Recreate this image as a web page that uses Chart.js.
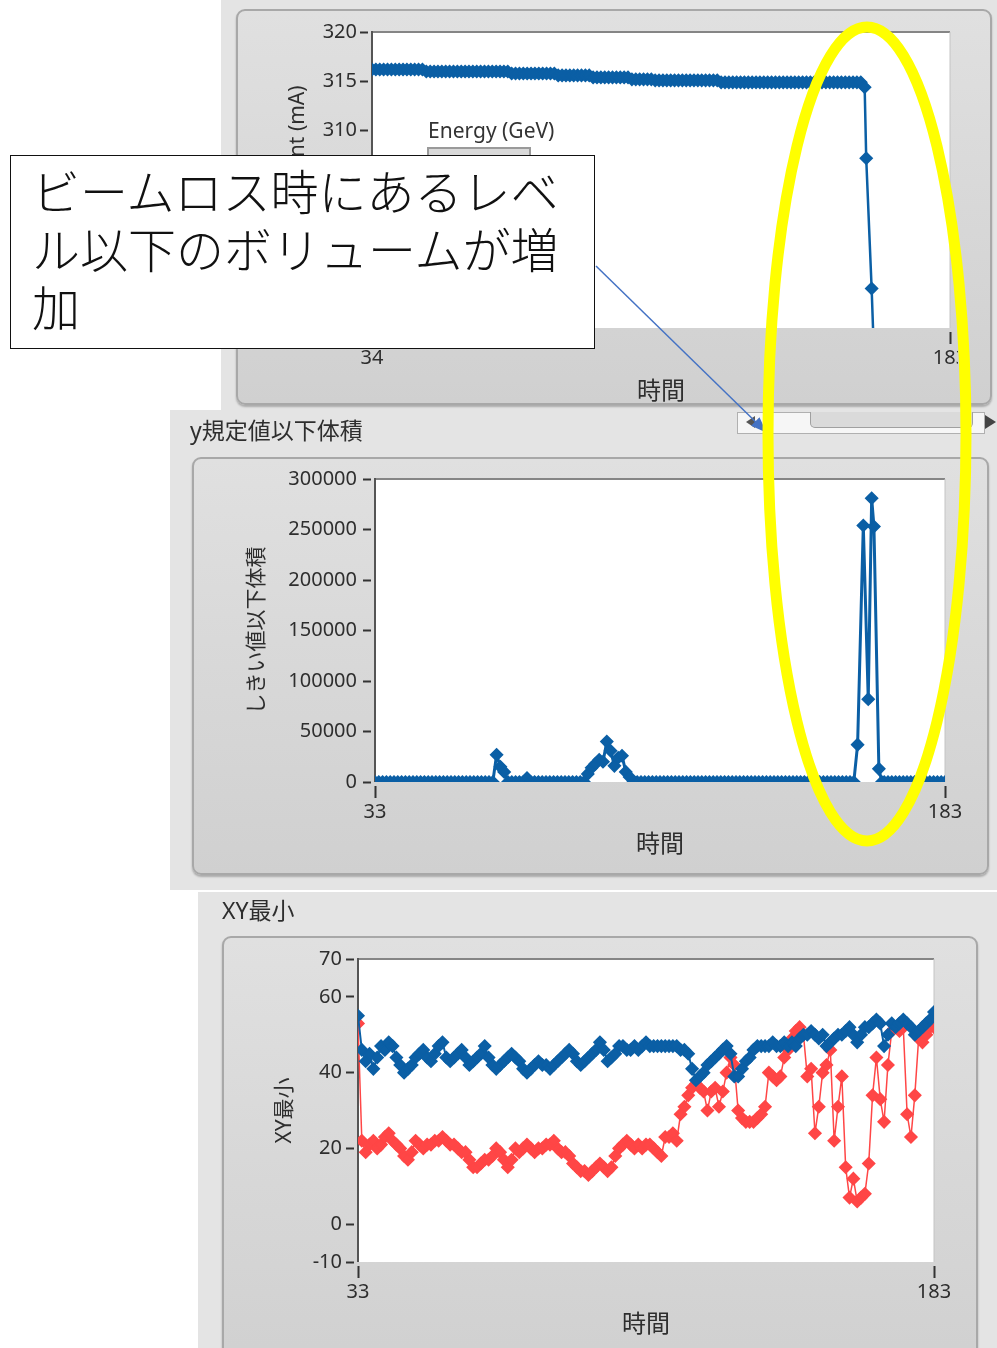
<!DOCTYPE html>
<html>
<head>
<meta charset="utf-8">
<script src="https://cdn.jsdelivr.net/npm/chart.js@4.4.0/dist/chart.umd.min.js"></script>
<style>
body{margin:0;width:997px;height:1348px;background:#fff;position:relative;overflow:hidden;font-family:'Noto Sans','Noto Sans CJK JP',sans-serif;}
.abs{position:absolute;}
.outer{position:absolute;background:#e4e4e4;}
.inner{position:absolute;box-sizing:border-box;border:2px solid #a8a8a8;border-radius:9px;background:linear-gradient(#e0e0e0,#d0d0d0);box-shadow:0 2px 2px rgba(0,0,0,.25);}
canvas{position:absolute;}
#note{left:10px;top:155px;width:585px;height:194px;box-sizing:border-box;border:1.5px solid #111;background:#fff;
  padding:4px 0 0 21px;font-family:'Noto Sans CJK JP',sans-serif;font-weight:300;font-size:48px;line-height:58px;color:#111;white-space:nowrap;}
</style>
</head>
<body>
<div class="outer" style="left:221px;top:0;width:776px;height:410px"></div>
<div class="inner" style="left:236px;top:9px;width:756px;height:396px"></div>
<div class="outer" style="left:170px;top:410px;width:827px;height:480px"></div>
<div class="inner" style="left:192px;top:457px;width:797px;height:418px"></div>
<div class="outer" style="left:198px;top:892px;width:799px;height:456px"></div>
<div class="inner" style="left:222px;top:936px;width:756px;height:440px"></div>

<!-- scrollbar strip under the top graph -->
<div class="abs" style="left:737px;top:412px;width:248px;height:22px;background:#f6f6f6;border:1px solid #b0b0b0;box-sizing:border-box"></div>
<div class="abs" style="left:810px;top:412px;width:163px;height:16px;background:#dadada;border:1px solid #a0a0a0;border-top:none;border-radius:0 0 5px 5px;box-sizing:border-box"></div>
<div class="abs" style="left:746px;top:416px;width:0;height:0;border-top:6px solid transparent;border-bottom:6px solid transparent;border-right:9px solid #555"></div>
<div class="abs" style="left:985px;top:415px;width:0;height:0;border-top:7px solid transparent;border-bottom:7px solid transparent;border-left:11px solid #444"></div>

<canvas id="c1" width="737" height="410" style="left:221px;top:0"></canvas>
<canvas id="c2" width="827" height="480" style="left:170px;top:410px"></canvas>
<canvas id="c3" width="799" height="456" style="left:198px;top:892px"></canvas>

<div class="abs" style="left:428px;top:116px;font-size:21px;line-height:28px;color:#333">Energy (GeV)</div>
<div class="abs" style="left:427px;top:147px;width:104px;height:16px;border:2px solid #9a9a9a;background:#d9d9d9;box-sizing:border-box"></div>

<div id="note" class="abs">ビームロス時にあるレベ<br>ル以下のボリュームが増<br>加</div>

<svg class="abs" style="left:0;top:0" width="997" height="1348">
  <defs>
    <marker id="ah" markerUnits="userSpaceOnUse" markerWidth="16" markerHeight="12" refX="15" refY="6" orient="auto">
      <path d="M0,0 L16,6 L0,12 z" fill="#4472c4"/>
    </marker>
  </defs>
  <line x1="596" y1="266" x2="766" y2="432" stroke="#4472c4" stroke-width="1.5" marker-end="url(#ah)"/>
  <ellipse cx="867" cy="434" rx="99" ry="407" fill="none" stroke="#ffff00" stroke-width="11"/>
</svg>

<script>
// ---- top graph: beam current ----
const curTimes = [
  34,35,36,37,38,39,40,41,42,43,44,45,46,47,
  48,49,50,51,52,53,54,55,56,57,58,59,60,61,62,63,64,65,66,67,68,69,
  70,71,72,73,74,75,76,77,78,79,80,81,
  82,83,84,85,86,87,88,89,90,
  91,92,93,94,95,96,97,98,99,100,
  101,102,103,104,105,106,
  107,108,109,110,111,112,113,114,115,116,117,118,119,120,121,122,123,
  124,125,126,127,128,129,130,131,132,133,134,135,136,137,138,139,140,141,142,143,144,145,146,147,148,149,150,151,152,153,154,155,156,157,158,159,160,
  161,161.4,162.8,163.6
];
const curValues = [
  316.2,316.2,316.2,316.2,316.2,316.2,316.2,316.2,316.2,316.2,316.2,316.2,316.2,316.2,
  316.0,316.0,316.0,316.0,316.0,316.0,316.0,316.0,316.0,316.0,316.0,316.0,316.0,316.0,316.0,316.0,316.0,316.0,316.0,316.0,316.0,316.0,
  315.8,315.8,315.8,315.8,315.8,315.8,315.8,315.8,315.8,315.8,315.8,315.8,
  315.6,315.6,315.6,315.6,315.6,315.6,315.6,315.6,315.6,
  315.4,315.4,315.4,315.4,315.4,315.4,315.4,315.4,315.4,315.4,
  315.2,315.2,315.2,315.2,315.2,315.2,
  315.1,315.1,315.1,315.1,315.1,315.1,315.1,315.1,315.1,315.1,315.1,315.1,315.1,315.1,315.1,315.1,315.1,
  314.9,314.9,314.9,314.9,314.9,314.9,314.9,314.9,314.9,314.9,314.9,314.9,314.9,314.9,314.9,314.9,314.9,314.9,314.9,314.9,314.9,314.9,314.9,314.9,314.9,314.9,314.9,314.9,314.9,314.9,314.9,314.9,314.9,314.9,314.9,314.9,314.9,
  314.4,307.2,294.0,285.0
];
const curXTicks = [34, 183];

// ---- middle graph: volume below threshold ----
const volTimes = [
  33,34,35,36,37,38,39,40,41,42,43,44,45,46,47,48,49,50,51,52,53,54,55,56,57,58,59,60,61,62,
  63,64,65,66,67,68,69,70,71,72,73,74,75,76,77,78,79,80,81,82,83,84,85,86,87,88,89,90,91,92,
  93,94,95,96,97,98,99,100,101,102,103,104,105,106,107,108,109,110,111,112,113,114,115,116,117,118,119,120,121,122,
  123,124,125,126,127,128,129,130,131,132,133,134,135,136,137,138,139,140,141,142,143,144,145,146,147,148,149,150,151,152,
  153,154,155,156,157,158,159,
  160,161.5,162.8,163.7,164.3,165.6,166.4,
  167,168,169,170,171,172,173,174,175,176,177,178,179,180,181,182,183
];
const volValues = [
  0,0,0,0,0,0,0,0,0,0, 0,0,0,0,0,0,0,0,0,0, 0,0,0,0,0,0,0,0,0,0,
  0,0,27000,15000,10000,0,0,0,0,0, 4000,0,0,0,0,0,0,0,0,0, 0,0,0,0,0,0,8000,14000,18000,22000,
  20000,40000,31000,16000,24000,26000,10000,5000,0,0, 0,0,0,0,0,0,0,0,0,0, 0,0,0,0,0,0,0,0,0,0,
  0,0,0,0,0,0,0,0,0,0, 0,0,0,0,0,0,0,0,0,0, 0,0,0,0,0,0,0,0,0,0,
  0,0,0,0,0,0,0,
  37000,254000,82000,281000,253000,13000,0,
  0,0,0,0,0,0,0,0,0,0,0,0,0,0,0,0,0
];
const volXTicks = [33, 183];

// ---- bottom graph: XY minimum ----
const xyTimes = [
  33,34,35,36,37,38,39,40,41,42,43,44,45,46,47,48,49,50,51,52,53,54,55,56,57,58,59,60,61,62,
  63,64,65,66,67,68,69,70,71,72,73,74,75,76,77,78,79,80,81,82,83,84,85,86,87,88,89,90,91,92,
  93,94,95,96,97,98,99,100,101,102,103,104,105,106,107,108,109,110,111,112,113,114,115,116,117,118,119,120,121,122,
  123,124,125,126,127,128,129,130,131,132,133,134,135,136,137,138,139,140,141,142,143,144,145,146,147,148,149,150,151,152,
  153,154,155,156,157,158,159,160,161,162,163,164,165,166,167,168,169,170,171,172,173,174,175,176,177,178,179,180,181,182,183
];
const xyBlue = [
  55,46,43,45,41,44,47,46,48,47,
  44,42,40,41,42,44,45,46,44,43,
  45,47,48,44,43,44,45,46,44,42,
  43,44,45,47,44,42,41,42,43,44,
  45,44,43,41,40,41,42,43,42,42,
  41,42,43,44,45,46,45,43,42,43,
  44,45,46,48,46,43,44,45,47,47,
  46,46,47,46,47,48,47,47,47,47,
  47,47,47,47,46,46,45,41,38,39,
  40,42,43,44,45,46,47,45,39,39,
  41,43,44,46,47,47,47,47,48,47,
  47,48,47,48,47,49,50,50,51,50,
  49,50,47,48,49,50,50,51,52,50,
  48,50,52,52,53,54,53,47,50,53,
  52,53,54,53,52,50,51,52,53,54,
  56
];
const xyRed = [
  53,22,19,21,22,20,21,23,24,22,
  21,20,18,17,19,22,21,20,21,21,
  22,22,23,22,21,21,20,19,19,17,
  15,15,16,17,17,18,20,19,17,15,
  17,20,19,20,21,20,19,20,20,21,
  21,22,20,19,19,18,16,15,14,14,
  13,14,15,16,15,14,15,18,20,21,
  22,21,20,21,20,21,21,20,19,18,
  23,23,24,22,29,31,34,36,37,36,
  35,30,35,36,31,35,40,44,42,30,
  28,27,27,27,28,29,31,40,39,38,
  39,44,46,49,51,52,50,39,41,24,
  31,40,42,46,22,31,39,15,7,12,
  6,7,8,16,34,44,33,27,42,51,
  52,51,52,29,23,34,49,48,50,52,
  52
];
const xyXTicks = [33, 183];
const xyYTicks = [-10, 0, 20, 40, 60, 70];

const fam = "'Noto Sans', 'Noto Sans CJK JP', sans-serif";
const textCol = '#2e2e2e';
const blue = '#0b5fa5';
const red = '#ff4646';

const pts = (xs, ys) => xs.map((x, i) => ({x: x, y: ys[i]}));

// white plot area with LabVIEW style frame
const plotFrame = {
  id: 'plotFrame',
  beforeDraw(chart){
    const {ctx, chartArea: a} = chart;
    ctx.save();
    ctx.fillStyle = '#fff';
    ctx.fillRect(a.left, a.top, a.right - a.left, a.bottom - a.top);
    ctx.lineWidth = 2; ctx.strokeStyle = '#858585';
    ctx.beginPath(); ctx.moveTo(a.left, a.top); ctx.lineTo(a.right, a.top); ctx.stroke();
    ctx.lineWidth = 1; ctx.strokeStyle = '#c4c4c4';
    ctx.beginPath(); ctx.moveTo(a.right, a.top); ctx.lineTo(a.right, a.bottom); ctx.stroke();
    ctx.lineWidth = 2; ctx.strokeStyle = '#555';
    ctx.beginPath(); ctx.moveTo(a.left, a.top - 1); ctx.lineTo(a.left, a.bottom); ctx.stroke();
    ctx.restore();
  }
};

function xAxis(min, max, height, tickVals){
  return {
    type: 'linear', min: min, max: max,
    afterBuildTicks: s => { s.ticks = tickVals.map(v => ({value: v})); },
    afterFit: s => { s.height = height; s.paddingLeft = 0; s.paddingRight = 0; },
    grid: {drawOnChartArea: false, drawTicks: true, tickLength: 16, tickWidth: 2, tickColor: '#333', tickBorderDash: [0, 4, 12, 100]},
    border: {display: false},
    ticks: {font: {family: fam, size: 20}, color: textCol, padding: 2, maxRotation: 0, autoSkip: false, callback: v => String(v)},
    title: {display: true, text: '時間', font: {family: fam, size: 24}, color: textCol, padding: {top: 4, bottom: 3}}
  };
}
function yAxis(min, max, step, width, text, titlePad, labelPad, tickVals){
  const ax = {
    type: 'linear', min: min, max: max,
    afterFit: s => { s.width = width; s.paddingTop = 0; s.paddingBottom = 0; },
    grid: {drawOnChartArea: false, drawTicks: true, tickLength: 12, tickWidth: 2, tickColor: '#333', tickBorderDash: [8, 100]},
    border: {display: false},
    ticks: {stepSize: step, font: {family: fam, size: 20}, color: textCol, padding: labelPad, callback: v => String(v)},
    title: {display: true, text: text, font: {family: fam, size: 21}, color: textCol, padding: {top: titlePad, bottom: 0}}
  };
  if (tickVals) ax.afterBuildTicks = s => { s.ticks = tickVals.map(v => ({value: v})); };
  return ax;
}
function series(data, color, lw, r){
  return {data: data, borderColor: color, backgroundColor: color, borderWidth: lw, tension: 0,
    pointStyle: 'rectRot', pointRadius: r, pointBorderWidth: 1.5, pointBackgroundColor: color, pointBorderColor: color, clip: 0};
}
const base = {responsive: false, animation: false, devicePixelRatio: 1, events: []};

new Chart(document.getElementById('c1'), {
  type: 'line',
  data: {datasets: [series(pts(curTimes, curValues), blue, 2.5, 6)]},
  options: Object.assign({}, base, {
    layout: {padding: {left: 0, top: 32, right: 8, bottom: 0.8}},
    plugins: {legend: {display: false}, tooltip: {enabled: false}},
    scales: {
      x: xAxis(34, 183, 81.2, curXTicks),
      y: yAxis(290, 320, 5, 151, 'Beam Current (mA)', 64, 3)
    }
  }),
  plugins: [plotFrame]
});

new Chart(document.getElementById('c2'), {
  type: 'line',
  data: {datasets: [series(pts(volTimes, volValues), blue, 3, 6)]},
  options: Object.assign({}, base, {
    layout: {padding: {left: 20, top: 0, right: 52, bottom: 27.8}},
    plugins: {
      legend: {display: false}, tooltip: {enabled: false},
      title: {display: true, text: 'y規定値以下体積', align: 'start', color: textCol,
        font: {family: fam, size: 23, weight: 'normal'}, padding: {top: 9, bottom: 32.4}}
    },
    scales: {
      x: xAxis(33, 183, 80.2, volXTicks),
      y: yAxis(0, 300000, 50000, 185, 'しきい値以下体積', 54.4, 6)
    }
  }),
  plugins: [plotFrame]
});

new Chart(document.getElementById('c3'), {
  type: 'line',
  data: {datasets: [
    series(pts(xyTimes, xyBlue), blue, 2, 6),
    series(pts(xyTimes, xyRed), red, 1.5, 6)
  ]},
  options: Object.assign({}, base, {
    layout: {padding: {left: 24, top: 0, right: 63, bottom: 5.8}},
    plugins: {
      legend: {display: false}, tooltip: {enabled: false},
      title: {display: true, text: 'XY最小', align: 'start', color: textCol,
        font: {family: fam, size: 23, weight: 'normal'}, padding: {top: 7, bottom: 32.4}}
    },
    scales: {
      x: xAxis(33, 183, 80.2, xyXTicks),
      y: yAxis(-10, 70, 10, 136, 'XY最小', 50.4, 4, xyYTicks)
    }
  }),
  plugins: [plotFrame]
});
</script>
</body>
</html>
